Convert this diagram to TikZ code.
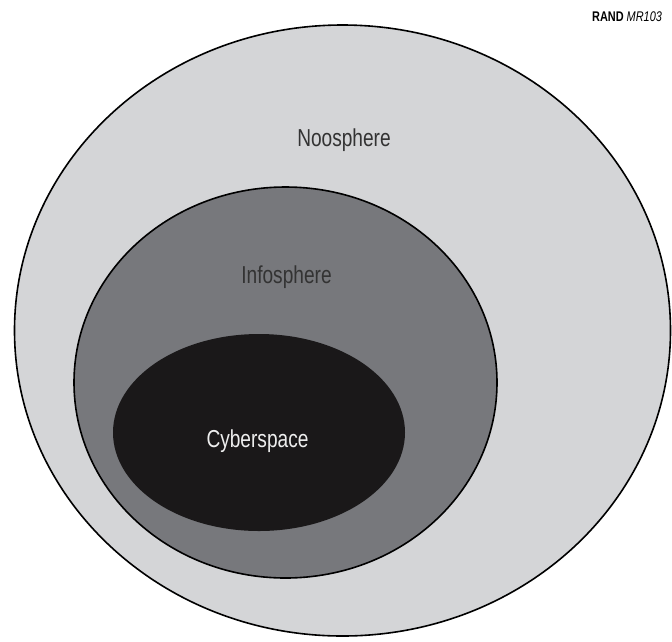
\documentclass[tikz,border=0pt]{standalone}
\usepackage{fontspec}
\setmainfont{Liberation Sans}
\definecolor{noo}{HTML}{D4D5D7}
\definecolor{info}{HTML}{77787C}
\definecolor{cyber}{HTML}{1A1819}
\definecolor{txtdark}{HTML}{333333}
\definecolor{txtlight}{HTML}{EEEEEE}
\tikzset{
  sphere/.style={draw=black, line width=1.6pt},
  lbl/.style={font=\fontsize{24.5}{28}\selectfont, anchor=base, inner sep=0pt, xscale=0.78},
}
\begin{document}
\begin{tikzpicture}[x=1pt,y=-1pt]
\useasboundingbox (0,0) rectangle (672,641);
\fill[white] (0,0) rectangle (672,641);
\draw[sphere, fill=noo] (342.5,330.5) ellipse [x radius=328, y radius=305.5];
\draw[sphere, fill=info] (285.5,382.5) ellipse [x radius=211.5, y radius=195.5];
\fill[cyber] (259,432.5) ellipse [x radius=146, y radius=98.5];
\node[lbl, text=txtdark] (noosphere) at (344,146) {Noosphere};
\node[lbl, text=black!80] (infosphere) at (286.5,283) {Infosphere};
\node[lbl, text=txtlight] (cyberspace) at (257.5,447) {Cyberspace};
\node[anchor=base west, inner sep=0pt, xscale=0.78, font=\fontsize{14}{16}\selectfont] (rand) at (592,21) {\textbf{RAND} \textit{MR103}};
\end{tikzpicture}
\end{document}
